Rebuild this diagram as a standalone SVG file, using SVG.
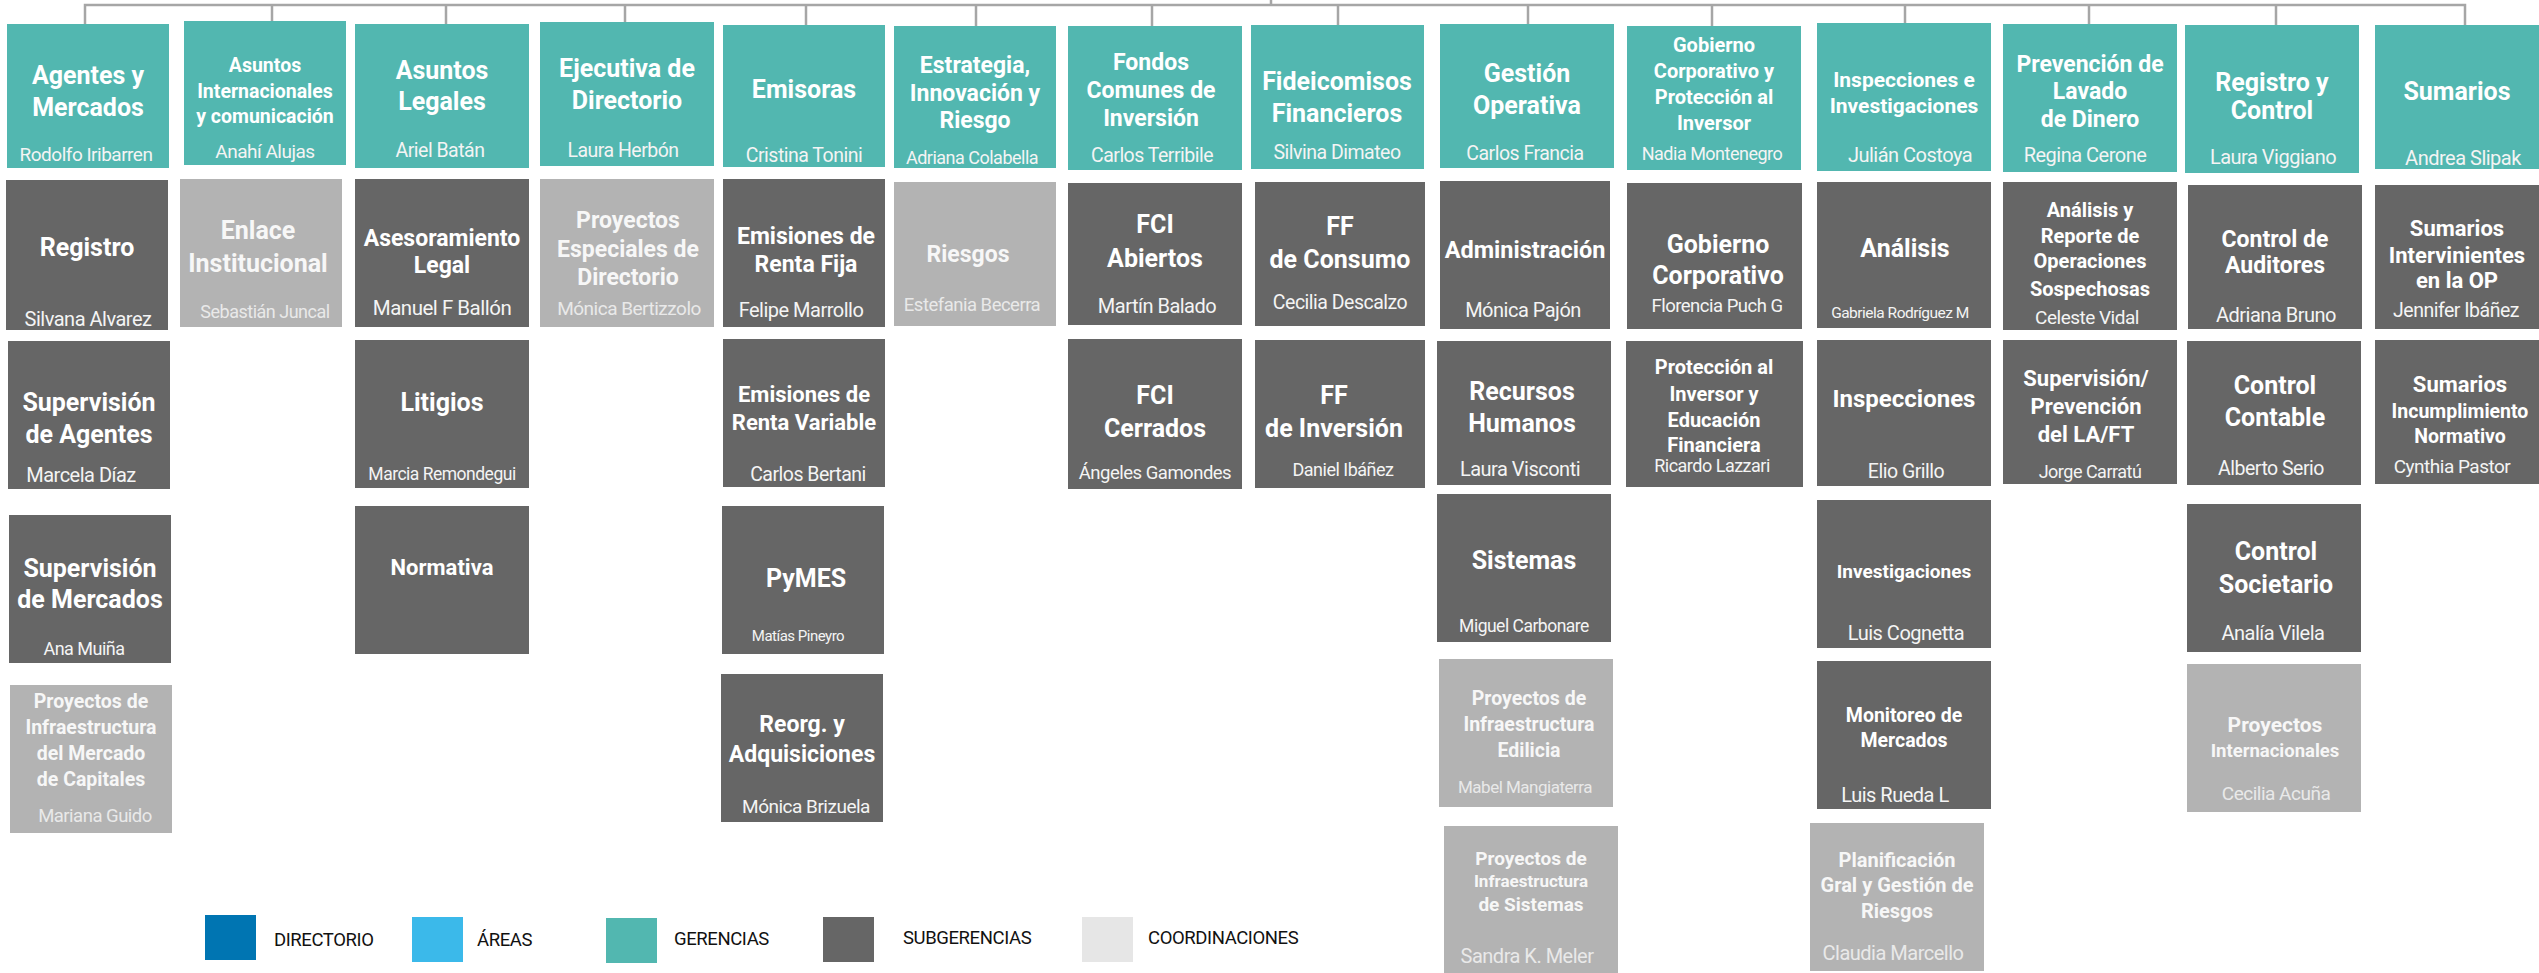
<svg xmlns="http://www.w3.org/2000/svg" width="2539" height="973" viewBox="0 0 2539 973">
<style>
.g{fill:#52b7b0}.s{fill:#666666}.c{fill:#b3b3b3}
.t{font-family:Roboto,"Liberation Sans",sans-serif;font-weight:700;fill:#ffffff;text-anchor:middle}
.n{font-family:Roboto,"Liberation Sans",sans-serif;font-weight:400;letter-spacing:-0.5px;fill:#f4f4f4;text-anchor:middle}
.nl{fill:#e9e9e9}
.tl{fill:#f7f7f7}
.lg{font-family:Roboto,"Liberation Sans",sans-serif;font-size:18.5px;letter-spacing:-0.4px;fill:#111111}
.con{fill:none;stroke:#a6a6a6;stroke-width:2.5}
</style>
<rect width="2539" height="973" fill="#ffffff"/>
<g id="connectors">
<path class="con" d="M85,24V5H2465V25M272,5V21M446,5V24M625,5V22M806,5V25M976,5V26M1152,5V26M1338,5V25M1528,5V24M1712,5V26M1905,5V23M2089,5V24M2276,5V25M1271,0V5"/>
</g>
<!-- Row 1 gerencias -->
<g id="agentes-mercados"><rect class="g" x="7" y="24" width="162" height="144"/><text class="t" x="88" y="84" font-size="25">Agentes y</text><text class="t" x="88" y="116" font-size="25">Mercados</text><text class="n" x="86" y="161" font-size="19">Rodolfo Iribarren</text></g>
<g id="asuntos-internacionales"><rect class="g" x="184" y="21" width="162" height="144"/><text class="t" x="265" y="72" font-size="19.5">Asuntos</text><text class="t" x="265" y="98" font-size="19.5">Internacionales</text><text class="t" x="265" y="123" font-size="19.5">y comunicación</text><text class="n" x="265" y="158" font-size="19">Anahí Alujas</text></g>
<g id="asuntos-legales"><rect class="g" x="355" y="24" width="174" height="144"/><text class="t" x="442" y="79" font-size="25">Asuntos</text><text class="t" x="442" y="110" font-size="25">Legales</text><text class="n" x="440" y="157" font-size="19.5">Ariel Batán</text></g>
<g id="ejecutiva-directorio"><rect class="g" x="540" y="22" width="174" height="144"/><text class="t" x="627" y="77" font-size="25">Ejecutiva de</text><text class="t" x="627" y="109" font-size="25">Directorio</text><text class="n" x="623" y="157" font-size="19.5">Laura Herbón</text></g>
<g id="emisoras"><rect class="g" x="723" y="25" width="162" height="142"/><text class="t" x="804" y="98" font-size="25">Emisoras</text><text class="n" x="804" y="162" font-size="19.5">Cristina Tonini</text></g>
<g id="estrategia"><rect class="g" x="894" y="26" width="162" height="142"/><text class="t" x="975" y="73" font-size="23">Estrategia,</text><text class="t" x="975" y="101" font-size="23">Innovación y</text><text class="t" x="975" y="128" font-size="23">Riesgo</text><text class="n" x="972" y="164" font-size="18">Adriana Colabella</text></g>
<g id="fondos-comunes"><rect class="g" x="1068" y="26" width="174" height="144"/><text class="t" x="1151" y="70" font-size="23">Fondos</text><text class="t" x="1151" y="98" font-size="23">Comunes de</text><text class="t" x="1151" y="126" font-size="23">Inversión</text><text class="n" x="1152" y="162" font-size="19.5">Carlos Terribile</text></g>
<g id="fideicomisos"><rect class="g" x="1251" y="25" width="173" height="144"/><text class="t" x="1337" y="90" font-size="25">Fideicomisos</text><text class="t" x="1337" y="122" font-size="25">Financieros</text><text class="n" x="1337" y="159" font-size="19.5">Silvina Dimateo</text></g>
<g id="gestion-operativa"><rect class="g" x="1440" y="24" width="174" height="144"/><text class="t" x="1527" y="82" font-size="25">Gestión</text><text class="t" x="1527" y="114" font-size="25">Operativa</text><text class="n" x="1525" y="160" font-size="19.5">Carlos Francia</text></g>
<g id="gobierno-corporativo-proteccion"><rect class="g" x="1627" y="26" width="174" height="144"/><text class="t" x="1714" y="52" font-size="20">Gobierno</text><text class="t" x="1714" y="78" font-size="20">Corporativo y</text><text class="t" x="1714" y="104" font-size="20">Protección al</text><text class="t" x="1714" y="130" font-size="20">Inversor</text><text class="n" x="1712" y="160" font-size="18">Nadia Montenegro</text></g>
<g id="inspecciones-investigaciones"><rect class="g" x="1817" y="23" width="174" height="148"/><text class="t" x="1904" y="87" font-size="21">Inspecciones e</text><text class="t" x="1904" y="113" font-size="21">Investigaciones</text><text class="n" x="1910" y="162" font-size="20">Julián Costoya</text></g>
<g id="prevencion-lavado"><rect class="g" x="2003" y="24" width="174" height="148"/><text class="t" x="2090" y="72" font-size="23">Prevención de</text><text class="t" x="2090" y="99" font-size="23">Lavado</text><text class="t" x="2090" y="127" font-size="23">de Dinero</text><text class="n" x="2085" y="162" font-size="20">Regina Cerone</text></g>
<g id="registro-control"><rect class="g" x="2185" y="25" width="174" height="148"/><text class="t" x="2272" y="91" font-size="25">Registro y</text><text class="t" x="2272" y="119" font-size="25">Control</text><text class="n" x="2273" y="164" font-size="20">Laura Viggiano</text></g>
<g id="sumarios"><rect class="g" x="2375" y="25" width="164" height="144"/><text class="t" x="2457" y="100" font-size="25">Sumarios</text><text class="n" x="2463" y="165" font-size="20">Andrea Slipak</text></g>
<!-- Row 2 -->
<g id="registro"><rect class="s" x="6" y="180" width="162" height="150"/><text class="t" x="87" y="256" font-size="25">Registro</text><text class="n" x="88" y="326" font-size="20">Silvana Alvarez</text></g>
<g id="enlace-institucional"><rect class="c" x="180" y="179" width="162" height="148"/><text class="t tl" x="258" y="239" font-size="25">Enlace</text><text class="t tl" x="258" y="272" font-size="25">Institucional</text><text class="n nl" x="265" y="318" font-size="18">Sebastián Juncal</text></g>
<g id="asesoramiento-legal"><rect class="s" x="355" y="179" width="174" height="148"/><text class="t" x="442" y="246" font-size="23">Asesoramiento</text><text class="t" x="442" y="273" font-size="23">Legal</text><text class="n" x="442" y="315" font-size="20.5">Manuel F Ballón</text></g>
<g id="proyectos-especiales"><rect class="c" x="540" y="179" width="174" height="148"/><text class="t tl" x="628" y="228" font-size="23">Proyectos</text><text class="t tl" x="628" y="257" font-size="23">Especiales de</text><text class="t tl" x="628" y="285" font-size="23">Directorio</text><text class="n nl" x="629" y="315" font-size="19">Mónica Bertizzolo</text></g>
<g id="emisiones-renta-fija"><rect class="s" x="723" y="179" width="162" height="148"/><text class="t" x="806" y="244" font-size="23">Emisiones de</text><text class="t" x="806" y="272" font-size="23">Renta Fija</text><text class="n" x="801" y="317" font-size="20">Felipe Marrollo</text></g>
<g id="riesgos"><rect class="c" x="894" y="182" width="162" height="144"/><text class="t tl" x="968" y="262" font-size="23">Riesgos</text><text class="n nl" x="972" y="311" font-size="18.5">Estefania Becerra</text></g>
<g id="fci-abiertos"><rect class="s" x="1068" y="183" width="174" height="142"/><text class="t" x="1155" y="233" font-size="25">FCI</text><text class="t" x="1155" y="267" font-size="25">Abiertos</text><text class="n" x="1157" y="313" font-size="20">Martín Balado</text></g>
<g id="ff-consumo"><rect class="s" x="1255" y="182" width="170" height="144"/><text class="t" x="1340" y="235" font-size="25">FF</text><text class="t" x="1340" y="268" font-size="25">de Consumo</text><text class="n" x="1340" y="309" font-size="19.5">Cecilia Descalzo</text></g>
<g id="administracion"><rect class="s" x="1440" y="181" width="170" height="148"/><text class="t" x="1525" y="258" font-size="23.5">Administración</text><text class="n" x="1523" y="317" font-size="20">Mónica Pajón</text></g>
<g id="gobierno-corporativo"><rect class="s" x="1627" y="183" width="175" height="146"/><text class="t" x="1718" y="253" font-size="25">Gobierno</text><text class="t" x="1718" y="284" font-size="25">Corporativo</text><text class="n" x="1717" y="312" font-size="18.5">Florencia Puch G</text></g>
<g id="analisis"><rect class="s" x="1817" y="182" width="174" height="146"/><text class="t" x="1905" y="257" font-size="25">Análisis</text><text class="n" x="1900" y="318" font-size="15.5">Gabriela Rodríguez M</text></g>
<g id="analisis-reporte"><rect class="s" x="2003" y="182" width="174" height="148"/><text class="t" x="2090" y="217" font-size="20">Análisis y</text><text class="t" x="2090" y="243" font-size="20">Reporte de</text><text class="t" x="2090" y="268" font-size="20">Operaciones</text><text class="t" x="2090" y="296" font-size="20">Sospechosas</text><text class="n" x="2087" y="324" font-size="19">Celeste Vidal</text></g>
<g id="control-auditores"><rect class="s" x="2188" y="185" width="174" height="144"/><text class="t" x="2275" y="247" font-size="23">Control de</text><text class="t" x="2275" y="273" font-size="23">Auditores</text><text class="n" x="2276" y="322" font-size="20">Adriana Bruno</text></g>
<g id="sumarios-intervinientes"><rect class="s" x="2375" y="185" width="164" height="144"/><text class="t" x="2457" y="236" font-size="22">Sumarios</text><text class="t" x="2457" y="263" font-size="22">Intervinientes</text><text class="t" x="2457" y="288" font-size="22">en la OP</text><text class="n" x="2456" y="317" font-size="19.5">Jennifer Ibáñez</text></g>
<!-- Row 3 -->
<g id="supervision-agentes"><rect class="s" x="8" y="341" width="162" height="148"/><text class="t" x="89" y="411" font-size="25">Supervisión</text><text class="t" x="89" y="443" font-size="25">de Agentes</text><text class="n" x="81" y="482" font-size="20">Marcela Díaz</text></g>
<g id="litigios"><rect class="s" x="355" y="340" width="174" height="148"/><text class="t" x="442" y="411" font-size="25">Litigios</text><text class="n" x="442" y="480" font-size="17.5">Marcia Remondegui</text></g>
<g id="emisiones-renta-variable"><rect class="s" x="723" y="339" width="162" height="148"/><text class="t" x="804" y="402" font-size="22">Emisiones de</text><text class="t" x="804" y="430" font-size="22">Renta Variable</text><text class="n" x="808" y="481" font-size="19.5">Carlos Bertani</text></g>
<g id="fci-cerrados"><rect class="s" x="1068" y="339" width="174" height="150"/><text class="t" x="1155" y="404" font-size="25">FCI</text><text class="t" x="1155" y="437" font-size="25">Cerrados</text><text class="n" x="1155" y="479" font-size="18.5">Ángeles Gamondes</text></g>
<g id="ff-inversion"><rect class="s" x="1255" y="340" width="170" height="148"/><text class="t" x="1334" y="404" font-size="25">FF</text><text class="t" x="1334" y="437" font-size="25">de Inversión</text><text class="n" x="1343" y="476" font-size="18">Daniel Ibáñez</text></g>
<g id="recursos-humanos"><rect class="s" x="1437" y="341" width="174" height="144"/><text class="t" x="1522" y="400" font-size="25">Recursos</text><text class="t" x="1522" y="432" font-size="25">Humanos</text><text class="n" x="1520" y="476" font-size="20">Laura Visconti</text></g>
<g id="proteccion-inversor"><rect class="s" x="1626" y="341" width="177" height="146"/><text class="t" x="1714" y="374" font-size="20">Protección al</text><text class="t" x="1714" y="401" font-size="20">Inversor y</text><text class="t" x="1714" y="427" font-size="20">Educación</text><text class="t" x="1714" y="452" font-size="20">Financiera</text><text class="n" x="1712" y="472" font-size="18">Ricardo Lazzari</text></g>
<g id="inspecciones"><rect class="s" x="1817" y="340" width="174" height="146"/><text class="t" x="1904" y="407" font-size="24">Inspecciones</text><text class="n" x="1906" y="478" font-size="19.5">Elio Grillo</text></g>
<g id="supervision-prevencion"><rect class="s" x="2003" y="340" width="174" height="144"/><text class="t" x="2086" y="386" font-size="22">Supervisión/</text><text class="t" x="2086" y="414" font-size="22">Prevención</text><text class="t" x="2086" y="442" font-size="22">del LA/FT</text><text class="n" x="2090" y="478" font-size="18">Jorge Carratú</text></g>
<g id="control-contable"><rect class="s" x="2187" y="341" width="174" height="144"/><text class="t" x="2275" y="394" font-size="25">Control</text><text class="t" x="2275" y="426" font-size="25">Contable</text><text class="n" x="2271" y="475" font-size="19.5">Alberto Serio</text></g>
<g id="sumarios-incumplimiento"><rect class="s" x="2375" y="340" width="164" height="144"/><text class="t" x="2460" y="392" font-size="22">Sumarios</text><text class="t" x="2460" y="418" font-size="19.5">Incumplimiento</text><text class="t" x="2460" y="443" font-size="19.5">Normativo</text><text class="n" x="2452" y="473" font-size="19">Cynthia Pastor</text></g>
<!-- Row 4 -->
<g id="supervision-mercados"><rect class="s" x="9" y="515" width="162" height="148"/><text class="t" x="90" y="577" font-size="25">Supervisión</text><text class="t" x="90" y="608" font-size="25">de Mercados</text><text class="n" x="84" y="655" font-size="18">Ana Muiña</text></g>
<g id="normativa"><rect class="s" x="355" y="506" width="174" height="148"/><text class="t" x="442" y="575" font-size="22">Normativa</text></g>
<g id="pymes"><rect class="s" x="722" y="506" width="162" height="148"/><text class="t" x="806" y="587" font-size="25">PyMES</text><text class="n" x="798" y="641" font-size="15">Matías Pineyro</text></g>
<g id="sistemas"><rect class="s" x="1437" y="494" width="174" height="148"/><text class="t" x="1524" y="569" font-size="25">Sistemas</text><text class="n" x="1524" y="632" font-size="17.5">Miguel Carbonare</text></g>
<g id="investigaciones"><rect class="s" x="1817" y="500" width="174" height="148"/><text class="t" x="1904" y="578" font-size="19">Investigaciones</text><text class="n" x="1906" y="640" font-size="20">Luis Cognetta</text></g>
<g id="control-societario"><rect class="s" x="2187" y="504" width="174" height="148"/><text class="t" x="2276" y="560" font-size="25">Control</text><text class="t" x="2276" y="593" font-size="25">Societario</text><text class="n" x="2273" y="640" font-size="20">Analía Vilela</text></g>
<!-- Row 5 -->
<g id="proyectos-infra-mercado"><rect class="c" x="10" y="685" width="162" height="148"/><text class="t tl" x="91" y="708" font-size="19.5">Proyectos de</text><text class="t tl" x="91" y="734" font-size="19.5">Infraestructura</text><text class="t tl" x="91" y="760" font-size="19.5">del Mercado</text><text class="t tl" x="91" y="786" font-size="19.5">de Capitales</text><text class="n nl" x="95" y="822" font-size="18.5">Mariana Guido</text></g>
<g id="reorg-adquisiciones"><rect class="s" x="721" y="674" width="162" height="148"/><text class="t" x="802" y="732" font-size="23">Reorg. y</text><text class="t" x="802" y="762" font-size="23">Adquisiciones</text><text class="n" x="806" y="813" font-size="19">Mónica Brizuela</text></g>
<g id="proyectos-infra-edilicia"><rect class="c" x="1439" y="659" width="174" height="148"/><text class="t tl" x="1529" y="705" font-size="19.5">Proyectos de</text><text class="t tl" x="1529" y="731" font-size="19.5">Infraestructura</text><text class="t tl" x="1529" y="757" font-size="19.5">Edilicia</text><text class="n nl" x="1525" y="793" font-size="17">Mabel Mangiaterra</text></g>
<g id="monitoreo-mercados"><rect class="s" x="1817" y="661" width="174" height="148"/><text class="t" x="1904" y="722" font-size="19.5">Monitoreo de</text><text class="t" x="1904" y="747" font-size="19.5">Mercados</text><text class="n" x="1895" y="802" font-size="20">Luis Rueda L</text></g>
<g id="proyectos-internacionales"><rect class="c" x="2187" y="664" width="174" height="148"/><text class="t tl" x="2275" y="732" font-size="21">Proyectos</text><text class="t tl" x="2275" y="757" font-size="18.5">Internacionales</text><text class="n nl" x="2276" y="800" font-size="19">Cecilia Acuña</text></g>
<!-- Row 6 -->
<g id="proyectos-infra-sistemas"><rect class="c" x="1444" y="826" width="174" height="147"/><text class="t tl" x="1531" y="865" font-size="19">Proyectos de</text><text class="t tl" x="1531" y="887" font-size="17">Infraestructura</text><text class="t tl" x="1531" y="911" font-size="19">de Sistemas</text><text class="n nl" x="1527" y="963" font-size="20">Sandra K. Meler</text></g>
<g id="planificacion"><rect class="c" x="1810" y="823" width="174" height="148"/><text class="t tl" x="1897" y="867" font-size="20">Planificación</text><text class="t tl" x="1897" y="892" font-size="20">Gral y Gestión de</text><text class="t tl" x="1897" y="918" font-size="20">Riesgos</text><text class="n nl" x="1893" y="960" font-size="20">Claudia Marcello</text></g>
<!-- Legend -->
<g id="legend">
<rect x="205" y="915" width="51" height="45" fill="#0075b2"/><text class="lg" x="274" y="946">DIRECTORIO</text>
<rect x="412" y="917" width="51" height="45" fill="#3bb9ea"/><text class="lg" x="477" y="946">ÁREAS</text>
<rect x="606" y="918" width="51" height="45" fill="#52b7b0"/><text class="lg" x="674" y="945">GERENCIAS</text>
<rect x="823" y="917" width="51" height="45" fill="#666666"/><text class="lg" x="903" y="944">SUBGERENCIAS</text>
<rect x="1082" y="917" width="51" height="45" fill="#e6e6e6"/><text class="lg" x="1148" y="944">COORDINACIONES</text>
</g>
</svg>
